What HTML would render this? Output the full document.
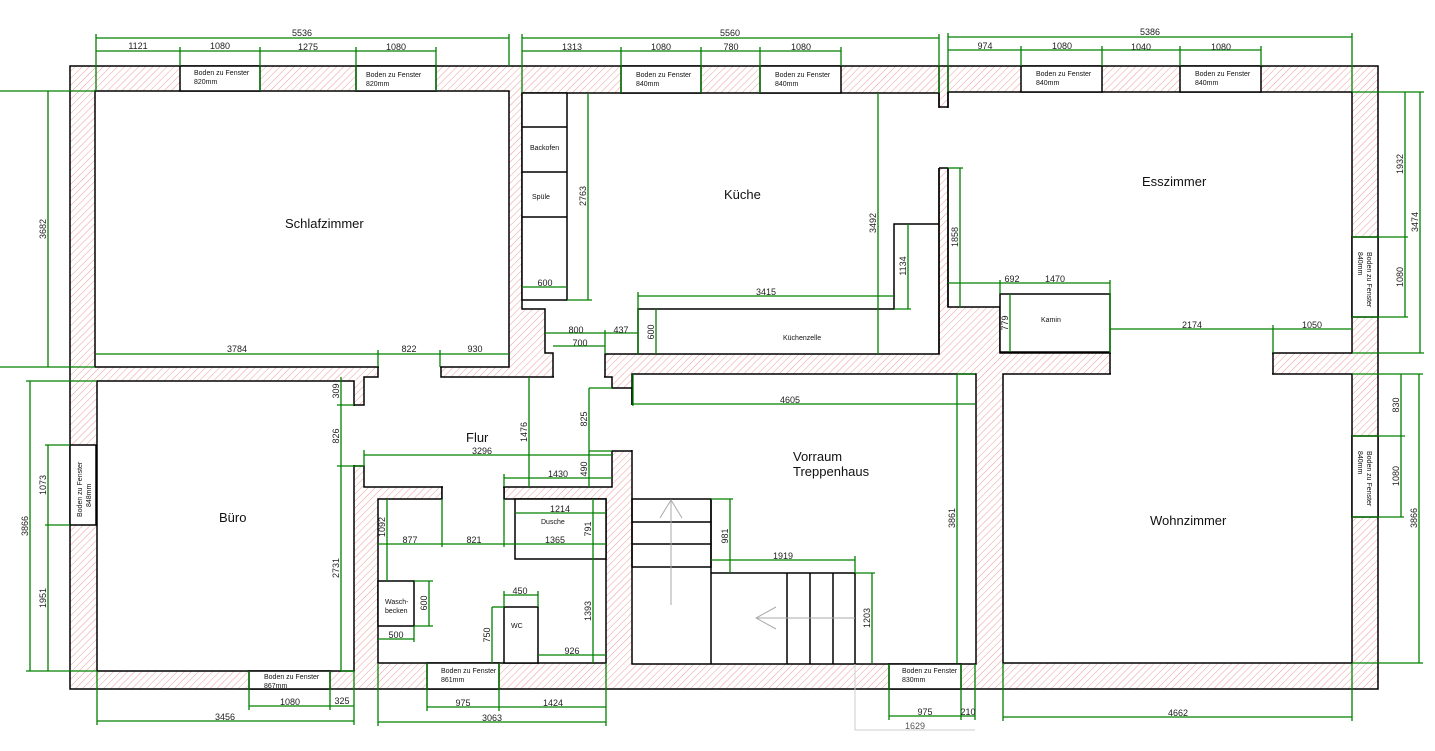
<!DOCTYPE html>
<html><head><meta charset="utf-8"><style>
html,body{margin:0;padding:0;background:#fff;width:1435px;height:751px;overflow:hidden}
svg{display:block}
.d{font-family:"Liberation Sans",sans-serif;font-size:9px;fill:#222}
.s{font-family:"Liberation Sans",sans-serif;font-size:7px;fill:#111}
.r{font-family:"Liberation Sans",sans-serif;font-size:13px;fill:#111}
</style></head><body>
<svg width="1435" height="751" viewBox="0 0 1435 751" xmlns="http://www.w3.org/2000/svg">
<defs>
<pattern id="h" patternUnits="userSpaceOnUse" width="5" height="5" patternTransform="rotate(45)">
<line x1="0" y1="0" x2="0" y2="5" stroke="#f09090" stroke-width="0.9"/>
</pattern>
</defs>
<rect x="70" y="66" width="1308" height="623" fill="url(#h)" stroke="#000" stroke-width="1.5"/>
<g fill="#fff" stroke="#000" stroke-width="1.5">
<rect x="95" y="91" width="414" height="276"/>
<polygon points="522,93 939,93 939,354 605,354 605,377 553,377 553,353 545,353 545,309 522,309"/>
<polygon points="948,92 1352,92 1352,353 1000,353 1000,307 948,307"/>
<rect x="1000" y="294" width="110" height="58"/>
<polygon points="378,367 441,367 441,377 553,377 605,377 612,377 612,388 632,388 632,451 612,451 612,487 504,487 504,499 442,499 442,487 364,487 364,466 354,466 354,405 364,405 364,377 378,377"/>
<rect x="97" y="381" width="257" height="290"/>
<polygon points="378,499 442,499 442,487 504,487 504,499 606,499 606,663 378,663"/>
<rect x="632" y="374" width="344" height="290"/>
<rect x="1003" y="374" width="349" height="289"/>
</g>
<g fill="#fff" stroke="none">
<rect x="554" y="351" width="50" height="28"/>
<rect x="379" y="364" width="61" height="15"/>
<rect x="443" y="485" width="60" height="16"/>
<rect x="630" y="405" width="4" height="45"/>
<rect x="352" y="406" width="4" height="59"/>
<rect x="1111" y="351" width="161" height="25"/>
<rect x="937" y="108" width="13" height="60"/>
</g>
<g stroke="#000" stroke-width="1.5" fill="#fff">
<line x1="1110" y1="352" x2="1110" y2="374"/><line x1="1273" y1="353" x2="1273" y2="374"/>
<line x1="939" y1="107" x2="948" y2="107"/><line x1="939" y1="168" x2="948" y2="168"/>
<line x1="939" y1="66" x2="939" y2="107"/><line x1="948" y1="66" x2="948" y2="107"/>
<line x1="939" y1="168" x2="939" y2="354"/><line x1="948" y1="168" x2="948" y2="307"/>
<rect x="180" y="66" width="80" height="25"/><rect x="356" y="66" width="80" height="25"/>
<rect x="621" y="66" width="80" height="27"/><rect x="760" y="66" width="81" height="27"/>
<rect x="1021" y="66" width="81" height="26"/><rect x="1180" y="66" width="81" height="26"/>
<rect x="70" y="445" width="26" height="80"/><rect x="249" y="671" width="81" height="18"/>
<rect x="427" y="663" width="72" height="26"/><rect x="889" y="664" width="72" height="25"/>
<rect x="1352" y="237" width="26" height="80"/><rect x="1352" y="436" width="26" height="81"/>
<rect x="522" y="93" width="45" height="207"/>
<line x1="522" y1="127" x2="567" y2="127"/><line x1="522" y1="172" x2="567" y2="172"/><line x1="522" y1="217" x2="567" y2="217"/>
<polyline points="638,354 638,309 894,309 894,224 939,224" fill="none"/>
<rect x="515" y="499" width="91" height="60"/>
<rect x="378" y="581" width="36" height="45"/>
<rect x="504" y="607" width="34" height="56"/>
<rect x="632" y="499" width="79" height="68" fill="none"/>
<line x1="632" y1="522" x2="711" y2="522"/><line x1="632" y1="544" x2="711" y2="544"/>
<line x1="711" y1="499" x2="711" y2="664"/><line x1="711" y1="573" x2="855" y2="573"/>
<line x1="787" y1="573" x2="787" y2="664"/><line x1="810" y1="573" x2="810" y2="664"/><line x1="833" y1="573" x2="833" y2="664"/><line x1="855" y1="573" x2="855" y2="664"/>
</g>
<g stroke="#aaa" stroke-width="1" fill="none">
<line x1="671" y1="500" x2="671" y2="605"/><polyline points="660,518 671,500 682,518"/>
<line x1="756" y1="618" x2="855" y2="618"/><polyline points="776,607 756,618 776,629"/>
<polyline points="855,664 855,730 975,730" stroke="#ccc"/>
</g>
<g stroke="#008000" stroke-width="1.3" fill="none">
<line x1="96" y1="38" x2="509" y2="38"/><line x1="96" y1="51" x2="436" y2="51"/>
<line x1="96" y1="34" x2="96" y2="91"/><line x1="509" y1="34" x2="509" y2="66"/>
<line x1="180" y1="47" x2="180" y2="66"/><line x1="260" y1="47" x2="260" y2="91"/><line x1="356" y1="47" x2="356" y2="91"/><line x1="436" y1="47" x2="436" y2="91"/>
<line x1="522" y1="38" x2="939" y2="38"/><line x1="522" y1="51" x2="841" y2="51"/>
<line x1="522" y1="34" x2="522" y2="93"/><line x1="939" y1="34" x2="939" y2="93"/>
<line x1="621" y1="47" x2="621" y2="93"/><line x1="701" y1="47" x2="701" y2="93"/><line x1="760" y1="47" x2="760" y2="93"/><line x1="841" y1="47" x2="841" y2="66"/>
<line x1="948" y1="37" x2="1352" y2="37"/><line x1="948" y1="50" x2="1261" y2="50"/>
<line x1="948" y1="33" x2="948" y2="92"/><line x1="1352" y1="33" x2="1352" y2="92"/>
<line x1="1021" y1="46" x2="1021" y2="66"/><line x1="1102" y1="46" x2="1102" y2="66"/><line x1="1180" y1="46" x2="1180" y2="66"/><line x1="1261" y1="46" x2="1261" y2="66"/>
<line x1="48" y1="91" x2="48" y2="367"/><line x1="0" y1="91" x2="95" y2="91"/><line x1="0" y1="367" x2="95" y2="367"/>
<line x1="30" y1="381" x2="30" y2="671"/><line x1="26" y1="381" x2="97" y2="381"/><line x1="26" y1="671" x2="97" y2="671"/>
<line x1="48" y1="445" x2="48" y2="671"/><line x1="45" y1="445" x2="70" y2="445"/><line x1="45" y1="525" x2="70" y2="525"/>
<line x1="97" y1="721" x2="354" y2="721"/><line x1="97" y1="671" x2="97" y2="725"/><line x1="354" y1="671" x2="354" y2="725"/>
<line x1="249" y1="706" x2="354" y2="706"/><line x1="249" y1="671" x2="249" y2="710"/><line x1="330" y1="671" x2="330" y2="710"/>
<line x1="378" y1="722" x2="606" y2="722"/><line x1="378" y1="663" x2="378" y2="726"/><line x1="606" y1="663" x2="606" y2="726"/>
<line x1="427" y1="707" x2="606" y2="707"/><line x1="427" y1="663" x2="427" y2="711"/><line x1="499" y1="663" x2="499" y2="711"/>
<line x1="889" y1="716" x2="975" y2="716"/><line x1="889" y1="664" x2="889" y2="720"/><line x1="961" y1="664" x2="961" y2="720"/><line x1="975" y1="664" x2="975" y2="720"/>
<line x1="1003" y1="717" x2="1352" y2="717"/><line x1="1003" y1="663" x2="1003" y2="721"/><line x1="1352" y1="663" x2="1352" y2="721"/>
<line x1="1405" y1="92" x2="1405" y2="317"/><line x1="1420" y1="92" x2="1420" y2="353"/>
<line x1="1352" y1="92" x2="1424" y2="92"/><line x1="1352" y1="237" x2="1408" y2="237"/><line x1="1352" y1="317" x2="1408" y2="317"/><line x1="1352" y1="353" x2="1424" y2="353"/>
<line x1="1401" y1="374" x2="1401" y2="517"/><line x1="1419" y1="374" x2="1419" y2="663"/>
<line x1="1352" y1="374" x2="1423" y2="374"/><line x1="1352" y1="436" x2="1405" y2="436"/><line x1="1352" y1="517" x2="1404" y2="517"/><line x1="1352" y1="663" x2="1423" y2="663"/>
<line x1="96" y1="354" x2="509" y2="354"/><line x1="378" y1="350" x2="378" y2="367"/><line x1="440" y1="350" x2="440" y2="367"/>
<line x1="588" y1="93" x2="588" y2="300"/><line x1="567" y1="300" x2="592" y2="300"/><line x1="522" y1="287" x2="567" y2="287"/>
<line x1="545" y1="333" x2="638" y2="333"/><line x1="553" y1="346" x2="605" y2="346"/><line x1="605" y1="330" x2="605" y2="354"/><line x1="638" y1="292" x2="638" y2="354"/>
<line x1="656" y1="309" x2="656" y2="354"/><line x1="638" y1="296" x2="894" y2="296"/>
<line x1="908" y1="224" x2="908" y2="309"/><line x1="894" y1="309" x2="911" y2="309"/><line x1="878" y1="93" x2="878" y2="354"/>
<line x1="960" y1="168" x2="960" y2="307"/><line x1="948" y1="168" x2="963" y2="168"/>
<line x1="948" y1="283" x2="1110" y2="283"/><line x1="1000" y1="280" x2="1000" y2="294"/><line x1="1110" y1="280" x2="1110" y2="353"/>
<line x1="1010" y1="294" x2="1010" y2="352"/>
<line x1="1110" y1="329" x2="1352" y2="329"/><line x1="1273" y1="325" x2="1273" y2="353"/>
<line x1="341" y1="377" x2="341" y2="671"/><line x1="337" y1="405" x2="354" y2="405"/><line x1="337" y1="466" x2="364" y2="466"/><line x1="341" y1="671" x2="354" y2="671"/>
<line x1="529" y1="377" x2="529" y2="487"/>
<line x1="589" y1="388" x2="589" y2="487"/><line x1="589" y1="388" x2="612" y2="388"/><line x1="589" y1="451" x2="612" y2="451"/>
<line x1="364" y1="455" x2="612" y2="455"/><line x1="364" y1="450" x2="364" y2="466"/>
<line x1="504" y1="478" x2="612" y2="478"/><line x1="504" y1="474" x2="504" y2="487"/>
<line x1="633" y1="404" x2="975" y2="404"/><line x1="633" y1="374" x2="633" y2="406"/>
<line x1="957" y1="374" x2="957" y2="663"/><line x1="957" y1="374" x2="975" y2="374"/>
<line x1="387" y1="499" x2="387" y2="581"/>
<line x1="378" y1="544" x2="606" y2="544"/><line x1="442" y1="499" x2="442" y2="547"/><line x1="504" y1="499" x2="504" y2="547"/>
<line x1="515" y1="513" x2="606" y2="513"/><line x1="593" y1="499" x2="593" y2="663"/>
<line x1="429" y1="581" x2="429" y2="626"/><line x1="414" y1="581" x2="433" y2="581"/><line x1="414" y1="626" x2="433" y2="626"/>
<line x1="378" y1="639" x2="414" y2="639"/><line x1="414" y1="626" x2="414" y2="642"/>
<line x1="504" y1="595" x2="538" y2="595"/><line x1="504" y1="591" x2="504" y2="607"/><line x1="538" y1="591" x2="538" y2="607"/>
<line x1="492" y1="607" x2="492" y2="663"/><line x1="492" y1="607" x2="504" y2="607"/>
<line x1="538" y1="655" x2="606" y2="655"/>
<line x1="730" y1="499" x2="730" y2="573"/><line x1="711" y1="499" x2="733" y2="499"/>
<line x1="711" y1="560" x2="855" y2="560"/><line x1="855" y1="556" x2="855" y2="573"/>
<line x1="872" y1="573" x2="872" y2="663"/><line x1="855" y1="573" x2="875" y2="573"/>
</g>
<g class="d" text-anchor="middle">
<text x="302" y="36">5536</text><text x="138" y="49">1121</text><text x="220" y="49">1080</text><text x="308" y="50">1275</text><text x="396" y="50">1080</text>
<text x="730" y="36">5560</text><text x="572" y="50">1313</text><text x="661" y="50">1080</text><text x="731" y="50">780</text><text x="801" y="50">1080</text>
<text x="1150" y="35">5386</text><text x="985" y="49">974</text><text x="1062" y="49">1080</text><text x="1141" y="50">1040</text><text x="1221" y="50">1080</text>
<text x="237" y="352">3784</text><text x="409" y="352">822</text><text x="475" y="352">930</text>
<text x="545" y="286">600</text><text x="576" y="333">800</text><text x="580" y="346">700</text><text x="621" y="333">437</text>
<text x="766" y="295">3415</text><text x="1012" y="282">692</text><text x="1055" y="282">1470</text>
<text x="1192" y="328">2174</text><text x="1312" y="328">1050</text>
<text x="482" y="454">3296</text><text x="558" y="477">1430</text><text x="790" y="403">4605</text>
<text x="410" y="543">877</text><text x="474" y="543">821</text><text x="555" y="543">1365</text><text x="560" y="512">1214</text>
<text x="396" y="638">500</text><text x="520" y="594">450</text><text x="572" y="654">926</text>
<text x="783" y="559">1919</text>
<text x="225" y="720">3456</text><text x="290" y="705">1080</text><text x="342" y="704">325</text>
<text x="492" y="721">3063</text><text x="463" y="706">975</text><text x="553" y="706">1424</text>
<text x="925" y="715">975</text><text x="968" y="715">210</text><text x="915" y="729" fill="#555">1629</text>
<text x="1178" y="716">4662</text>
</g>
<g class="d" text-anchor="middle">
<text transform="translate(46,229) rotate(-90)">3682</text>
<text transform="translate(28,526) rotate(-90)">3866</text>
<text transform="translate(46,485) rotate(-90)">1073</text>
<text transform="translate(46,598) rotate(-90)">1951</text>
<text transform="translate(586,196) rotate(-90)">2763</text>
<text transform="translate(654,332) rotate(-90)">600</text>
<text transform="translate(906,266) rotate(-90)">1134</text>
<text transform="translate(876,223) rotate(-90)">3492</text>
<text transform="translate(958,237) rotate(-90)">1858</text>
<text transform="translate(1008,323) rotate(-90)">779</text>
<text transform="translate(1403,164) rotate(-90)">1932</text>
<text transform="translate(1403,277) rotate(-90)">1080</text>
<text transform="translate(1418,222) rotate(-90)">3474</text>
<text transform="translate(1399,405) rotate(-90)">830</text>
<text transform="translate(1399,476) rotate(-90)">1080</text>
<text transform="translate(1417,518) rotate(-90)">3866</text>
<text transform="translate(339,391) rotate(-90)">309</text>
<text transform="translate(339,436) rotate(-90)">826</text>
<text transform="translate(339,568) rotate(-90)">2731</text>
<text transform="translate(527,432) rotate(-90)">1476</text>
<text transform="translate(587,419) rotate(-90)">825</text>
<text transform="translate(587,469) rotate(-90)">490</text>
<text transform="translate(955,518) rotate(-90)">3861</text>
<text transform="translate(385,527) rotate(-90)">1092</text>
<text transform="translate(591,529) rotate(-90)">791</text>
<text transform="translate(427,603) rotate(-90)">600</text>
<text transform="translate(490,635) rotate(-90)">750</text>
<text transform="translate(591,611) rotate(-90)">1393</text>
<text transform="translate(728,536) rotate(-90)">981</text>
<text transform="translate(870,618) rotate(-90)">1203</text>
</g>
<g class="s">
<text x="194" y="75">Boden zu Fenster</text><text x="194" y="84">820mm</text>
<text x="366" y="77">Boden zu Fenster</text><text x="366" y="86">820mm</text>
<text x="636" y="77">Boden zu Fenster</text><text x="636" y="86">840mm</text>
<text x="775" y="77">Boden zu Fenster</text><text x="775" y="86">840mm</text>
<text x="1036" y="76">Boden zu Fenster</text><text x="1036" y="85">840mm</text>
<text x="1195" y="76">Boden zu Fenster</text><text x="1195" y="85">840mm</text>
<text x="264" y="679">Boden zu Fenster</text><text x="264" y="688">867mm</text>
<text x="441" y="673">Boden zu Fenster</text><text x="441" y="682">861mm</text>
<text x="902" y="673">Boden zu Fenster</text><text x="902" y="682">830mm</text>
<text x="530" y="150">Backofen</text><text x="532" y="199">Spüle</text>
<text x="783" y="340">Küchenzelle</text><text x="1041" y="322">Kamin</text>
<text x="541" y="524">Dusche</text><text x="511" y="628">WC</text>
<text x="385" y="604">Wasch-</text><text x="385" y="613">becken</text>
<text transform="translate(82,517) rotate(-90)">Boden zu Fenster</text>
<text transform="translate(91,507) rotate(-90)">848mm</text>
<text transform="translate(1367,252) rotate(90)">Boden zu Fenster</text>
<text transform="translate(1358,252) rotate(90)">840mm</text>
<text transform="translate(1367,451) rotate(90)">Boden zu Fenster</text>
<text transform="translate(1358,451) rotate(90)">840mm</text>
</g>
<g class="r">
<text x="285" y="228">Schlafzimmer</text>
<text x="724" y="199">Küche</text>
<text x="1142" y="186">Esszimmer</text>
<text x="466" y="442">Flur</text>
<text x="793" y="461">Vorraum</text><text x="793" y="476">Treppenhaus</text>
<text x="219" y="522">Büro</text>
<text x="1150" y="525">Wohnzimmer</text>
</g>
</svg>
</body></html>
